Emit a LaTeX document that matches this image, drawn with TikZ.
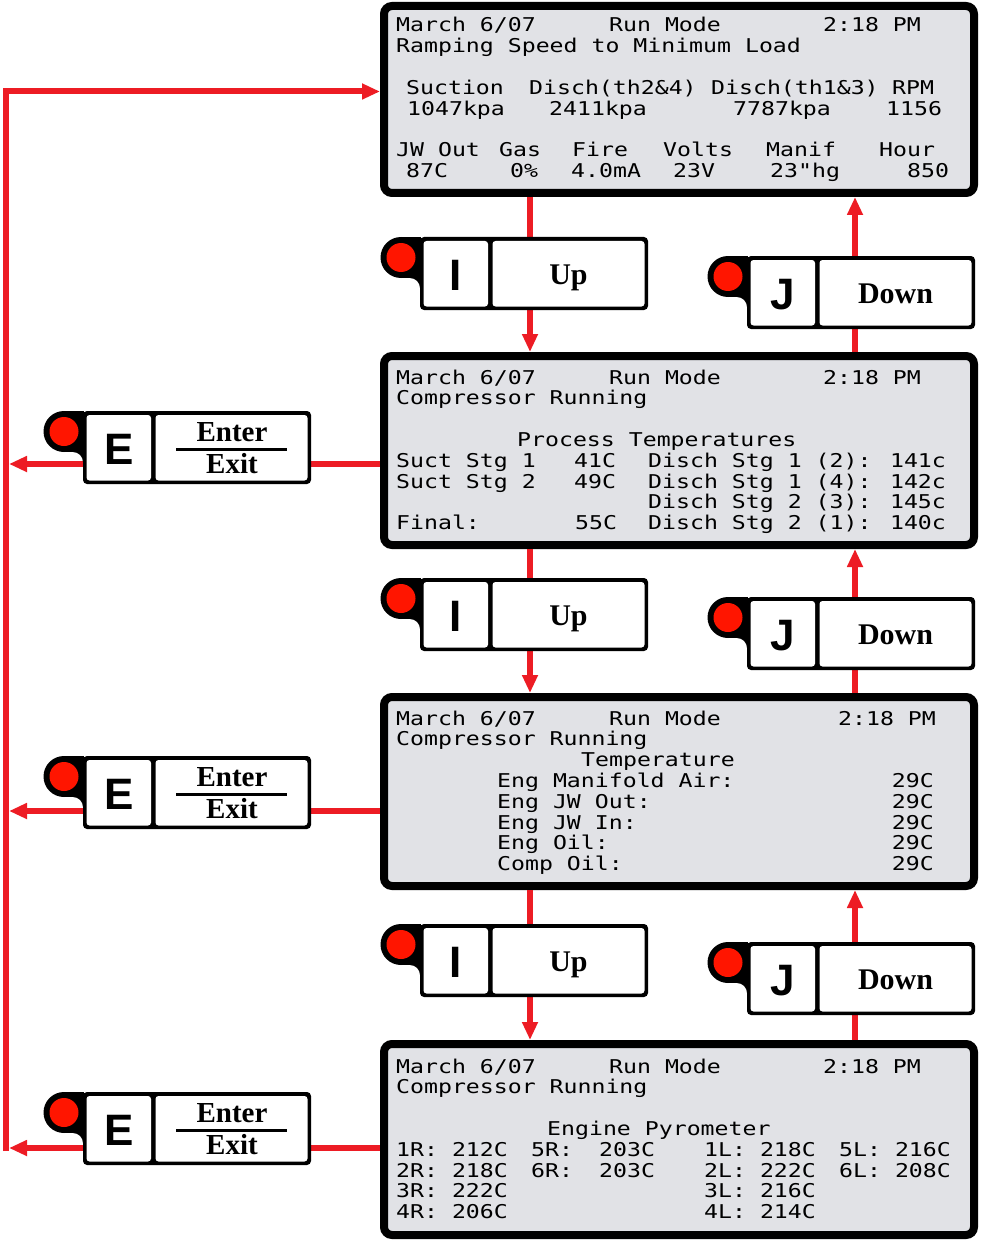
\documentclass[tikz,border=0pt]{standalone}
\usepackage{fontspec}
\usetikzlibrary{arrows.meta}
\newfontfamily\lcdfont[FakeStretch=1.22]{DejaVu Sans Mono}
\newfontfamily\keyfont{Liberation Sans}
\newfontfamily\labfont{Liberation Serif}
\definecolor{flowred}{HTML}{ED1C24}
\definecolor{dotred}{HTML}{FF1500}
\definecolor{lcdgrey}{HTML}{E1E2E6}

% black pad body with the lamp bump, origin = top-left of body
\newcommand\padframe{%
  \fill[rounded corners=4pt] (0,0) rectangle (228,73);
  \fill (-19,20.5) circle (20.5);
  \fill (-19,0) rectangle (1,41);
  \fill (0,41) -- (-10,41) .. controls (-4.5,41) and (0,45.5) .. (0,51) -- cycle;
  \fill[dotred] (-19,20.5) circle (14.5);
  \fill[white, rounded corners=3pt] (3.5,4) rectangle (68,69.5);
  \fill[white, rounded corners=3pt] (72.5,4) rectangle (224.5,69.5);}
\newcommand\keypad[4]{%
  \begin{scope}[shift={(#2)}]
    \padframe
    \node[keyglyph] (#1key) at (36,53) {#3};
    \node[keylabel] (#1lab) at (148.5,47) {#4};
  \end{scope}}
\newcommand\exitpad[2]{%
  \begin{scope}[shift={(#2)}]
    \padframe
    \node[keyglyph] (#1key) at (36,53) {E};
    \node[keylabel, font=\labfont\bfseries\fontsize{29}{30}\selectfont] (#1ent) at (149,30) {Enter};
    \node[keylabel, font=\labfont\bfseries\fontsize{29}{30}\selectfont] (#1ext) at (149,62.5) {Exit};
    \draw[line width=3pt] (93,38) -- (204,38);
  \end{scope}}

\begin{document}
\begin{tikzpicture}[x=1pt, y=-1pt,
  screen/.style={draw=black, fill=lcdgrey, line width=8pt, rounded corners=8pt,
    inner sep=0pt, minimum width=590pt},
  flow/.style={draw=flowred, line width=6pt, -{Triangle[length=18pt,width=15pt]}},
  lcd/.style={font=\lcdfont\fontsize{19}{20}\selectfont, anchor=base west, inner sep=0pt},
  keyglyph/.style={font=\keyfont\bfseries\fontsize{44}{44}\selectfont, anchor=base, inner sep=0pt},
  keylabel/.style={font=\labfont\bfseries\fontsize{30}{32}\selectfont, anchor=base, inner sep=0pt}]
  \useasboundingbox (0,0) rectangle (981,1241);
  \fill[white] (0,0) rectangle (981,1241);

  % the four display screens
  \node[screen, minimum height=187pt] (s1) at (679,99.5) {};
  \node[screen, minimum height=189pt] (s2) at (679,450.5) {};
  \node[screen, minimum height=189pt] (s3) at (679,791.5) {};
  \node[screen, minimum height=191pt] (s4) at (679,1139.5) {};

  % screen 1: ramping
  \begin{scope}[shift={(0,25)}]
    \foreach \c/\r/\t [count=\k] in {396/0/{March 6/07}, 609/0/Run Mode, 823/0/2:18 PM,
        396/1/Ramping Speed to Minimum Load,
        406/3/Suction, 529/3/Disch(th2\&4), 711/3/Disch(th1\&3), 892/3/RPM,
        407/4/1047kpa, 549/4/2411kpa, 733/4/7787kpa, 886/4/1156,
        396/6/JW Out, 499/6/Gas, 572/6/Fire, 663/6/Volts, 766/6/Manif, 879/6/Hour,
        406/7/87C, 510/7/0\%, 571/7/4.0mA, 673/7/23V, 770/7/23"hg, 907/7/850}
      \node[lcd] (a\k) at (\c,{\r*20.8+7}) {\t};
  \end{scope}
  % screen 2: process temperatures
  \begin{scope}[shift={(0,377)}]
    \foreach \c/\r/\t [count=\k] in {396/0/{March 6/07}, 609/0/Run Mode, 823/0/2:18 PM,
        396/1/Compressor Running, 517/3/Process Temperatures,
        396/4/Suct Stg 1, 574/4/41C, 648/4/Disch Stg 1 (2): 141c,
        396/5/Suct Stg 2, 574/5/49C, 648/5/Disch Stg 1 (4): 142c,
        648/6/Disch Stg 2 (3): 145c,
        396/7/Final:, 575/7/55C, 648/7/Disch Stg 2 (1): 140c}
      \node[lcd] (b\k) at (\c,{\r*20.8+7}) {\t};
  \end{scope}
  % screen 3: engine temperatures
  \begin{scope}[shift={(0,718)}]
    \foreach \c/\r/\t [count=\k] in {396/0/{March 6/07}, 609/0/Run Mode, 838/0/2:18 PM,
        396/1/Compressor Running, 581/2/Temperature,
        497/3/Eng Manifold Air:, 497/4/Eng JW Out:, 497/5/Eng JW In:,
        497/6/Eng Oil:, 497/7/Comp Oil:}
      \node[lcd] (c\k) at (\c,{\r*20.8+7}) {\t};
    \foreach \r in {3,...,7}
      \node[lcd, anchor=base east] (cv\r) at (934,{\r*20.8+7}) {29C};
  \end{scope}
  % screen 4: pyrometer
  \begin{scope}[shift={(0,1066)}]
    \foreach \c/\r/\t [count=\k] in {396/0/{March 6/07}, 609/0/Run Mode, 823/0/2:18 PM,
        396/1/Compressor Running, 547/3/Engine Pyrometer,
        396/4/1R: 212C, 531/4/5R:, 599/4/203C, 704/4/1L: 218C, 839/4/5L: 216C,
        396/5/2R: 218C, 531/5/6R:, 599/5/203C, 704/5/2L: 222C, 839/5/6L: 208C,
        396/6/3R: 222C, 704/6/3L: 216C,
        396/7/4R: 206C, 704/7/4L: 214C}
      \node[lcd] (d\k) at (\c,{\r*20.8+7}) {\t};
  \end{scope}

  % up / down links
  \coordinate (up) at (530,0);
  \coordinate (dn) at (855,0);
  \draw[flow] (s1.south -| up) -- (s2.north -| up);
  \draw[flow] (s2.south -| up) -- (s3.north -| up);
  \draw[flow] (s3.south -| up) -- (s4.north -| up);
  \draw[flow] (s2.north -| dn) -- (s1.south -| dn);
  \draw[flow] (s3.north -| dn) -- (s2.south -| dn);
  \draw[flow] (s4.north -| dn) -- (s3.south -| dn);

  % exit return line
  \coordinate (t0) at (6,91.5);
  \coordinate (t1) at (6,464);
  \coordinate (t2) at (6,811);
  \coordinate (t3) at (6,1148);
  \draw[flow] ([yshift=-3pt]t3) -- (t0) -- (s1.west |- t0);
  \draw[flow] (s2.west |- t1) -- ([xshift=3pt]t1);
  \draw[flow] (s3.west |- t2) -- ([xshift=3pt]t2);
  \draw[flow] (s4.west |- t3) -- ([xshift=3pt]t3);

  % keys
  \keypad{i1}{420,237}{I}{Up}
  \keypad{j1}{747,256}{J}{Down}
  \keypad{i2}{420,578}{I}{Up}
  \keypad{j2}{747,597}{J}{Down}
  \keypad{i3}{420,924}{I}{Up}
  \keypad{j3}{747,942}{J}{Down}
  \exitpad{e1}{83,411}
  \exitpad{e2}{83,756}
  \exitpad{e3}{83,1092}
\end{tikzpicture}
\end{document}
